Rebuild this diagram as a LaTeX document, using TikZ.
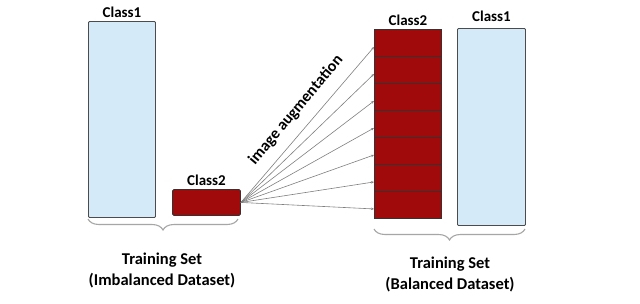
\documentclass[tikz,border=0pt]{standalone}
\usepackage{fontspec}
\setmainfont{Carlito}
\usepackage{tikz}
\usetikzlibrary{arrows.meta,positioning,calc,decorations.pathreplacing}
\definecolor{paleblue}{HTML}{D5EAF8}
\definecolor{darkred}{HTML}{A00A0A}
\tikzset{
  bluebar/.style={draw=black!70,fill=paleblue,line width=0.9pt,rounded corners=1pt,inner sep=0pt},
  redbar/.style={draw=black!80,fill=darkred,line width=0.9pt,inner sep=0pt},
  lab/.style={font=\bfseries\fontsize{15}{17}\selectfont},
  capt/.style={font=\bfseries\fontsize{16.5}{21}\selectfont,align=center},
  aug/.style={draw=black!50,line width=0.6pt,-{Stealth[length=3pt,width=2.5pt]}},
  brc/.style={draw=black!35,line width=1.1pt,decorate,decoration={brace,amplitude=11pt,mirror}}
}
\begin{document}
\begin{tikzpicture}[x=1pt,y=-1pt]
\useasboundingbox[fill=white] (0,0) rectangle (640,303);
% imbalanced set
\node[bluebar,minimum width=67pt,minimum height=196pt,anchor=north west] (c1a) at (88,21) {};
\node[redbar,rounded corners=1.5pt,minimum width=68pt,minimum height=26pt,anchor=north west] (c2a) at (172,189) {};
\node[lab,above=0pt of c1a] {Class1};
\node[lab,above=0pt of c2a] {Class2};
\draw[brc] (88,219) -- (238,219) coordinate[midway] (ba);
\node[capt] (ta) at (162,270) {Training Set\\(Imbalanced Dataset)};
% balanced set
\foreach \i in {0,...,6}{
  \node[redbar,minimum width=67pt,minimum height=27pt,anchor=north west] (seg\i) at (374,29+27*\i) {};
  \draw[aug] (c2a.east) -- ([yshift=-4pt]seg\i.west);
}
\node[bluebar,minimum width=68pt,minimum height=197pt,anchor=north west] (c1b) at (457,28) {};
\node[lab,above=0pt of seg0] {Class2};
\node[lab] at (c1b.north |- 0,16) {Class1};
\draw[brc] (374,229) -- (525,229) coordinate[midway] (bb);
\node[capt] (tb) at (450,274) {Training Set\\(Balanced Dataset)};
\node[lab,font=\bfseries\fontsize{16}{18}\selectfont,rotate=50] at (296,110) {image augmentation};
\end{tikzpicture}
\end{document}
